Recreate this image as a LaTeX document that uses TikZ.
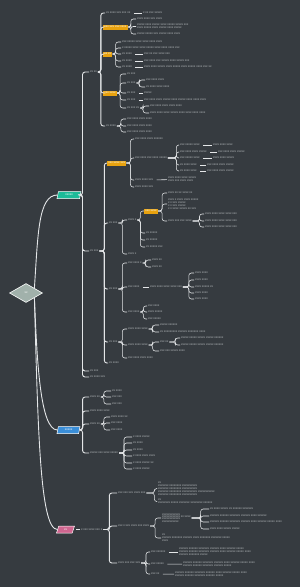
\documentclass[tikz,border=0pt]{standalone}
\usepackage{fontspec}
\setmainfont{Liberation Sans}
\usetikzlibrary{shapes.geometric}
\definecolor{slatebg}{HTML}{363B40}
\definecolor{wireline}{HTML}{E4E6E8}
\definecolor{labelgray}{HTML}{B7BBBF}
\definecolor{amberhl}{HTML}{E8A20F}
\definecolor{tealtopic}{HTML}{1DBB98}
\definecolor{bluetopic}{HTML}{3A8ED8}
\definecolor{pinktopic}{HTML}{CF6690}
\definecolor{sageroot}{HTML}{A1B1AB}
\newcommand{\mapfs}{\fontsize{3}{3}\selectfont}

\begin{document}
\begin{tikzpicture}[x=1pt,y=-1pt,
  lbl/.style={anchor=west,inner sep=0.8pt,text=labelgray,font=\mapfs,align=left},
  hl/.style={anchor=west,inner sep=1.2pt,fill=amberhl,text=white,font=\mapfs,minimum height=5pt},
  topic/.style={trapezium,trapezium left angle=72,trapezium right angle=108,trapezium stretches=true,draw=white,line width=0.5pt,text=white,font=\mapfs,minimum height=7pt,inner sep=0pt},
  br/.style={draw=wireline,line width=0.55pt,rounded corners=2.5pt},
  trunk/.style={br,line width=0.9pt},
  tie/.style={br,shorten <=2.5pt}]
\fill[slatebg] (0,0) rectangle (300,587);
\useasboundingbox (0,0) rectangle (300,587);

% root and the three topics
\node[diamond,draw=white,line width=0.6pt,fill=sageroot,minimum width=33pt,minimum height=19pt,inner sep=0pt,text=white,font=\mapfs] (root) at (26,293) {xx};
\node[topic,fill=tealtopic,minimum width=24pt] (tA) at (69,195) {xxxxx};
\node[topic,fill=bluetopic,minimum width=23pt] (tB) at (68.5,430) {xxxxx};
\node[topic,fill=pinktopic,minimum width=18pt] (tC) at (65.5,529.5) {xx};
\draw[trunk] (root.north east) .. controls (38,235) and (38,195) .. (tA.west);
\draw[trunk] (root.south east) .. controls (37,360) and (40,430) .. (tB.west);
\draw[trunk] (root.south east) .. controls (38,430) and (40,529.5) .. (tC.west);

% teal topic
\node[lbl] (a1) at (89,72) {xx xx};
\node[lbl] (a2) at (89,251) {xx xxx};
\node[lbl] (a3) at (89,371) {xx xxx};
\node[lbl] (a4) at (89,377) {xx xxxx xxx};
\foreach \n in {a1,a2,a3,a4} \draw[trunk] (tA.east) -- ++(2,0) |- (\n.west);

\node[lbl] (a11) at (105,13) {xx xxxx xxx xxx xx};
\node[lbl] (a11t) at (142,13) {x xx xxx xxxxx};
\node[hl] (a12) at (103,27) {xxx xxx xxx xxxx};
\node[hl] (a13) at (103,54) {xx xx};
\node[hl] (a14) at (103,93) {xxx xxxx};
\node[lbl] (a15) at (105,126) {xx xxxx};
\foreach \n in {a11,a12,a13,a14,a15} \draw[trunk] (a1.east) -- ++(3,0) |- (\n.west);
\draw[tie] (a11) -- (a11t);

\node[lbl] (a121) at (136,19) {xxxx xxxx xxx xxxx};
\node[lbl] (a122) at (136,26.5) {xxxxx xxxx xxxxx xxxx xxxxx xxxxx xxx\\xxxx xxxxx xxxx xxxxx xxxx xxxxx};
\node[lbl] (a123) at (136,34) {xxxxx xxxxx xxx xxxxx xxxx xxxx};
\foreach \n in {a121,a122,a123} \draw[br] (a12.east) -- ++(3,0) |- (\n.west);

\node[lbl] (a131) at (121,42) {xxx xxxxx xxxx xxxx xxxx xxxx};
\node[lbl] (a132) at (121,48) {x xxxxx xxxx xxxx xxxxx xxxx xxxx xxxx xxx};
\node[lbl] (a133) at (121,54) {xx xxxx};
\node[lbl] (a134) at (121,61) {xx xxxx};
\node[lbl] (a135) at (121,67) {xx xxxx};
\foreach \n in {a131,a132,a133,a134,a135} \draw[br] (a13.east) -- ++(3,0) |- (\n.west);
\node[lbl] (a133t) at (143,54) {xxx xx xxx xxxx xxx};
\node[lbl] (a134t) at (143,61) {xxx xxxx xxx xxxxx xxxx xxxxx xxx};
\node[lbl] (a135t) at (143,67) {xxxx xxxx xxxxx xxxx xxxxx xxxx xxxxx xxxx xxx xx};
\draw[tie] (a133) -- (a133t);
\draw[tie] (a134) -- (a134t);
\draw[tie] (a135) -- (a135t);

\node[lbl] (a141) at (126,74) {xx xxx};
\node[lbl] (a142) at (126,83) {xx xxx};
\node[lbl] (a143) at (126,93) {xx xxx};
\node[lbl] (a144) at (126,100) {xx xxx};
\node[lbl] (a145) at (126,108) {xx xxx xx};
\foreach \n in {a141,a142,a143,a144,a145} \draw[br] (a14.east) -- ++(3,0) |- (\n.west);
\node[lbl] (a142a) at (145,80) {xxx xxxx xxxx};
\node[lbl] (a142b) at (145,87) {xx xxxx xxxx xxxx};
\foreach \n in {a142a,a142b} \draw[br] (a142.east) -- ++(3,0) |- (\n.west);
\node[lbl] (a143t) at (143,93) {xxxxx};
\node[lbl] (a144t) at (143,100) {xxx xxxx xxxx xxxxx xxxx xxxxx xxxx xxxx xxxx};
\draw[tie] (a143) -- (a143t);
\draw[tie] (a144) -- (a144t);
\node[lbl] (a145a) at (149,106) {xxx xxxx xxxx xxxx xxxx};
\node[lbl] (a145b) at (149,113) {xxxx xxxx xxxx xxxxx xxxx xxxx xxxx xxxx};
\foreach \n in {a145a,a145b} \draw[br] (a145.east) -- ++(3,0) |- (\n.west);

\node[lbl] (a151) at (126,119) {xxx xxxx xxxx xxxx};
\node[lbl] (a152) at (126,126) {xxx xxxx xxxx xxxx};
\node[lbl] (a153) at (126,132) {xxx xxxx xxxx xxxx};
\foreach \n in {a151,a152,a153} \draw[br] (a15.east) -- ++(4,0) |- (\n.west);

\node[hl] (a21) at (107,163) {xxx xxxx xxx};
\node[lbl] (a22) at (108,223) {xx xxx};
\node[lbl] (a23) at (108,289) {xx xxx};
\node[lbl] (a24) at (108,342) {xx xxx};
\node[lbl] (a25) at (108,363) {xx xxxx};
\foreach \n in {a21,a22,a23,a24,a25} \draw[trunk] (a2.east) -- ++(5,0) |- (\n.west);

\node[lbl] (a211) at (134,139) {xxx xxxx xxxx xxxxxx};
\node[lbl] (a212) at (134,158) {xxx xxxx xxx xxxx xxxxx};
\node[lbl] (a213) at (134,180) {xxxx xxxx xxx};
\node[lbl] (a214) at (134,187) {xxxx xxxx xxx};
\foreach \n in {a211,a212,a213,a214} \draw[br] (a21.east) -- ++(4,0) |- (\n.west);
\node[lbl] (a2121) at (179,145) {xxx xxxxx xxxx};
\node[lbl] (a2122) at (179,152) {xxx xxxx xxxx xxxxx};
\node[lbl] (a2123) at (179,158) {xxx xxxxx xxxx};
\node[lbl] (a2124) at (179,165) {xx xxxx xxxx};
\node[lbl] (a2125) at (179,171) {xx xxxx xxxx};
\foreach \n in {a2121,a2122,a2123,a2124,a2125} \draw[br] (a212.east) -- ++(8.5,0) |- (\n.west);
\node[lbl] (a2121t) at (212,145) {xxxx xxxx xxxx};
\node[lbl] (a2122t) at (217,152) {xxx xxxx xxxx xxxxx};
\node[lbl] (a2123t) at (212,158) {xxxx xxxx xxxxx};
\node[lbl] (a2124t) at (206,165) {xxx xxxx xxxx xxxxx};
\node[lbl] (a2125t) at (206,171) {xxx xxxx xxxx xxxxx};
\draw[tie] (a2121) -- (a2121t);
\draw[tie] (a2122) -- (a2122t);
\draw[tie] (a2123) -- (a2123t);
\draw[tie] (a2124) -- (a2124t);
\draw[tie] (a2125) -- (a2125t);
\node[lbl] (a213t) at (167,179.5) {xxxx xxxx xxxx xxxxx\\xxxx xxx xxxx xxxx};
\draw[tie] (a213) -- (a213t);

\node[lbl] (a221) at (127,220) {xxxx x};
\node[lbl] (a222) at (127,254) {xxxx x};
\foreach \n in {a221,a222} \draw[br] (a22.east) -- ++(4,0) |- (\n.west);
\node[hl] (a2211) at (144,211) {xxx xxxx};
\node[lbl] (a2212) at (145,233) {xx xxxxx};
\node[lbl] (a2213) at (145,240) {xx xxxxx};
\node[lbl] (a2214) at (145,247) {xx xxxxx xxx};
\foreach \n in {a2211,a2212,a2213,a2214} \draw[br] (a221.east) -- ++(3,0) |- (\n.west);
\node[lbl] (a22111) at (167,193) {xxxx xx xx xxxx xx};
\node[lbl] (a22112) at (167,204) {xxxx x xxxx xxxx xxxxx\\x x xxx xxxxx\\x x xxx xxxxx\\x x xxxx xxxxx xx xxx};
\node[lbl] (a22113) at (167,221) {xxxx xxx xxx xxxx};
\foreach \n in {a22111,a22112,a22113} \draw[br] (a2211.east) -- ++(4,0) |- (\n.west);
\node[lbl] (a221131) at (204,214) {xxxx xxxx xxxx xxxx xxx};
\node[lbl] (a221132) at (204,221) {xxxx xxxx xxxx xxxx xxx};
\node[lbl] (a221133) at (204,227) {xxxx xxxx xxxx xxxx xxx};
\foreach \n in {a221131,a221132,a221133} \draw[br] (a22113.east) -- ++(7,0) |- (\n.west);

\node[lbl] (a231) at (127,263) {xxx xxxx x};
\node[lbl] (a232) at (127,287) {xxx xxxx};
\node[lbl] (a233) at (127,312) {xxx xxxx};
\foreach \n in {a231,a232,a233} \draw[br] (a23.east) -- ++(4,0) |- (\n.west);
\node[lbl] (a2311) at (151,260) {xxxx xx};
\node[lbl] (a2312) at (151,267) {xxxx xx};
\foreach \n in {a2311,a2312} \draw[br] (a231.east) -- ++(3,0) |- (\n.west);
\node[lbl] (a232t) at (149,287) {xxxx xxxx xxxx xxxx xxx};
\draw[tie] (a232) -- (a232t);
\node[lbl] (a232t1) at (194,273) {xxxx xxxx};
\node[lbl] (a232t2) at (194,280) {xxxx xxxx};
\node[lbl] (a232t3) at (194,287) {xxxx xxxxx xx};
\node[lbl] (a232t4) at (194,293) {xxxx xxxx};
\node[lbl] (a232t5) at (194,299) {xxxx xxxx};
\foreach \n in {a232t1,a232t2,a232t3,a232t4,a232t5} \draw[br] (a232t.east) -- ++(6,0) |- (\n.west);
\node[lbl] (a2331) at (147,306) {xxx xxxx};
\node[lbl] (a2332) at (147,312) {xxxx xxxxx};
\node[lbl] (a2333) at (147,319) {xxx xxxxx};
\foreach \n in {a2331,a2332,a2333} \draw[br] (a233.east) -- ++(3,0) |- (\n.west);

\node[lbl] (a241) at (127,329) {xxxx xxxx xxxx};
\node[lbl] (a242) at (127,345) {xxxx xxxx xxxx};
\node[lbl] (a243) at (127,358) {xxx xxxx xxxx xxxx};
\foreach \n in {a241,a242,a243} \draw[br] (a24.east) -- ++(4,0) |- (\n.west);
\node[lbl] (a2411) at (159,325) {xxxxx xxxxxx};
\node[lbl] (a2412) at (159,332) {xx xxxxxxxxx xxxxxx xxxxxxx xxxx};
\foreach \n in {a2411,a2412} \draw[br] (a241.east) -- ++(4,0) |- (\n.west);
\node[lbl] (a2421) at (159,342) {xxx xx};
\node[lbl] (a2422) at (159,351) {xxx xxx xxxxx xxxx};
\foreach \n in {a2421,a2422} \draw[br] (a242.east) -- ++(4,0) |- (\n.west);
\node[lbl] (a24211) at (180,338) {xxxxx xxxxx xxxxx xxxxx xxxxxx};
\node[lbl] (a24212) at (180,345) {xxxxx xxxxx xxxxx xxxxx xxxxxx};
\foreach \n in {a24211,a24212} \draw[br] (a2421.east) -- ++(6,0) |- (\n.west);

% blue topic
\node[lbl] (b1) at (89,397) {xxxx xx};
\node[lbl] (b2) at (89,411) {xxxx xxxx xxxx};
\node[lbl] (b3) at (89,424) {xxxx xx};
\node[lbl] (b4) at (89,453) {xxxxx xxx xxxx xxxxx};
\foreach \n in {b1,b2,b3,b4} \draw[trunk] (tB.east) -- ++(3,0) |- (\n.west);
\node[lbl] (b11) at (111,391) {xx xxxx};
\node[lbl] (b12) at (111,397) {xxx xxx};
\node[lbl] (b13) at (111,404) {xxx xxx};
\foreach \n in {b11,b12,b13} \draw[br] (b1.east) -- ++(3,0) |- (\n.west);
\node[lbl] (b31) at (110,417) {xxxx xxxx xx};
\node[lbl] (b32) at (110,423) {xxx xxxx};
\node[lbl] (b33) at (110,430) {xxx xxxx};
\foreach \n in {b31,b32,b33} \draw[br] (b3.east) -- ++(3,0) |- (\n.west);
\node[lbl] (b41) at (132,437) {x xxxx xxxxx};
\node[lbl] (b42) at (132,443) {xx xxxx};
\node[lbl] (b43) at (132,450) {xx xxxx};
\node[lbl] (b44) at (132,456) {x xxxx xxxx xxxx};
\node[lbl] (b45) at (132,463) {x xxxx xxxxx xx};
\node[lbl] (b46) at (132,469) {x xxxx xxxxx};
\foreach \n in {b41,b42,b43,b44,b45,b46} \draw[br] (b4.east) -- ++(5,0) |- (\n.west);

% pink topic
\node[lbl] (c1) at (80,529.5) {x xxx xxxx xxx x};
\draw[tie] (tC) -- (c1);
\node[lbl] (c11) at (117,493) {xxx xxx xxx xxxx xxx};
\node[lbl] (c12) at (117,526) {xxx x xxx xxxx xxx xxxx};
\node[lbl] (c13) at (117,563) {xxxx xxx xxx xxx};
\foreach \n in {c11,c12,c13} \draw[trunk] (c1.east) -- ++(6,0) |- (\n.west);
\node[lbl] (c111) at (157,488.5) {xx\\xxxxxxx xxxxxxxx xxxxxxxxxx\\xxxxxxx xxxxxxxx xxxxxxxxxx\\xxxxxxx xxxxxxxx xxxxxxxxxx xxxxxxxxxxx\\xxxxxxx xxxxxxxx xxxxxxxxxx};
\node[lbl] (c112) at (157,501.5) {xx\\xxxxxxxx xxxxx xxxxxxx xxxxxxxx xxxxxx};
\foreach \n in {c111,c112} \draw[br] (c11.east) -- ++(8,0) |- (\n.west);
\node[lbl] (c121) at (161,518) {xxxxxxxxxxxx\\[-0.8pt]xxxxxxxxxxxx xx xxxx\\[-0.8pt]xxxxxxxxxxxx\\[-0.8pt]xxxxxxxxxxx};
\node[lbl] (c122) at (161,538) {xx\\xxxxxx xxxxxxx xxxxxx xxxx xxxxxxx xxxxxxx xxxxx\\xxxx};
\foreach \n in {c121,c122} \draw[br] (c12.east) -- ++(5,0) |- (\n.west);
\node[lbl] (c1211) at (209,509) {xx xxxx xxxxx xx xxxxxx xxxxxxx};
\node[lbl] (c1212) at (209,516) {xxxxxx xxxxxx xxxxxxx xxxxxx xxxx xxxxxx};
\node[lbl] (c1213) at (209,522) {xxxxxx xxxxxx xxxxxxx xxxxxx xxxx xxxxxx xxxxx xxxx};
\node[lbl] (c1214) at (209,529) {xxxx xxxx xxxxx xxxxx};
\foreach \n in {c1211,c1212,c1213,c1214} \draw[br] (c121.east) -- ++(9,0) |- (\n.west);
\node[lbl] (c131) at (150,552) {xxx xxxxxx};
\node[lbl] (c132) at (150,564) {xxx xxxxx};
\node[lbl] (c133) at (150,574) {xxx xx};
\foreach \n in {c131,c132,c133} \draw[br] (c13.east) -- ++(5,0) |- (\n.west);
\node[lbl] (c131t) at (178,552) {xxxxxx xxxxxx xxxxxxx xxxxxx xxxx xxxxxx xxxxx\\xxxxxx xxxxxx xxxxxxx xxxxxx xxxx xxxxxx xxxxx xxxx\\xxxxxx xxxxxxx xxxxx};
\node[lbl] (c132t) at (182,564.5) {xxxxxx xxxxxx xxxxxxx xxxxxx xxxx xxxxxx xxxxx xxxx\\xxxxxx xxxxxx xxxxxxx xxxxxx xxxxx};
\node[lbl] (c133t) at (174,574.5) {xxxxxx xxxxxx xxxxxxx xxxxxx xxxx xxxxxx xxxxx xxxx\\xxxxxx xxxxxx xxxxxxx xxxxxx xxxxx};
\draw[tie] (c131) -- (c131t);
\draw[tie] (c132) -- (c132t);
\draw[tie] (c133) -- (c133t);
\end{tikzpicture}
\end{document}
